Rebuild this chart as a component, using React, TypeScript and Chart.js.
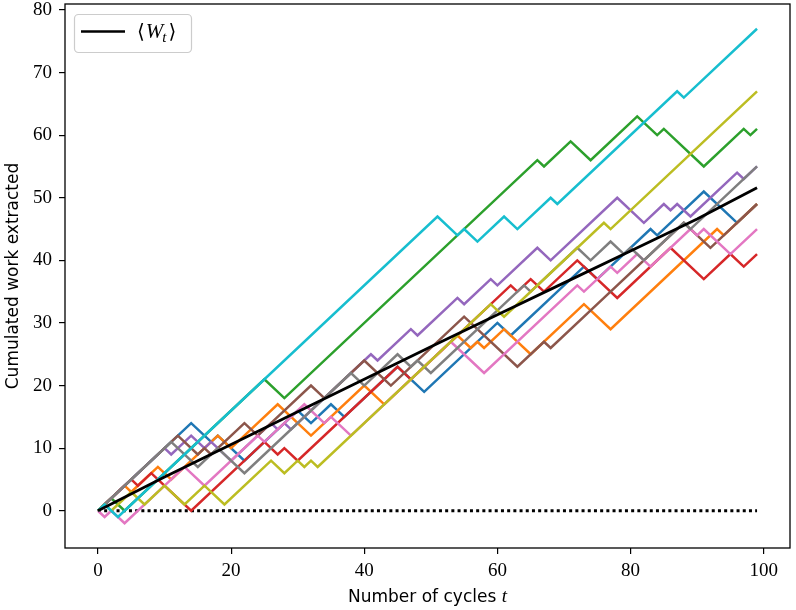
import { useEffect, useRef } from 'react';
import { Chart, registerables } from 'chart.js';

Chart.register(...registerables);

// ---- tick labels ----
const xTicks = [0, 20, 40, 60, 80, 100];
const yTicks = [0, 10, 20, 30, 40, 50, 60, 70, 80];

// ---- random walks (turning points: cycle t, cumulated work) ----
const blueT = [0, 14, 17, 18, 22, 30, 32, 35, 37, 45, 49, 60, 62, 73, 75, 83, 84, 91, 96, 99];
const blueY = [0, 14, 11, 12, 8, 16, 14, 17, 15, 23, 19, 30, 28, 39, 37, 45, 44, 51, 46, 49];

const orangeT = [0, 4, 5, 9, 11, 18, 20, 27, 32, 40, 43, 54, 56, 57, 58, 61, 65, 73, 77, 93, 94, 99];
const orangeY = [0, 4, 3, 7, 5, 12, 10, 17, 12, 20, 17, 28, 26, 27, 26, 29, 25, 33, 29, 45, 44, 49];

const greenT = [0, 2, 4, 25, 28, 66, 67, 71, 74, 81, 84, 85, 91, 97, 98, 99];
const greenY = [0, 2, 0, 21, 18, 56, 55, 59, 56, 63, 60, 61, 55, 61, 60, 61];

const redT = [0, 5, 6, 8, 14, 25, 27, 28, 30, 45, 47, 62, 63, 65, 67, 72, 78, 86, 91, 95, 97, 99];
const redY = [0, 5, 4, 6, 0, 11, 9, 10, 8, 23, 21, 36, 35, 37, 35, 40, 34, 42, 37, 41, 39, 41];

const purpleT = [0, 10, 11, 14, 16, 17, 20, 22, 26, 27, 28, 29, 38, 41, 42, 47, 48, 54, 55, 59, 60, 66, 68, 78, 82, 85, 86, 87, 89, 96, 97, 99];
const purpleY = [0, 10, 9, 12, 10, 11, 8, 10, 14, 13, 14, 13, 22, 25, 24, 29, 28, 34, 33, 37, 36, 42, 40, 50, 46, 49, 48, 49, 47, 54, 53, 55];

const brownT = [0, 12, 15, 16, 17, 22, 24, 32, 34, 40, 44, 55, 63, 67, 68, 76, 88, 92, 99];
const brownY = [0, 12, 9, 10, 9, 14, 12, 20, 18, 24, 20, 31, 23, 27, 26, 34, 46, 42, 49];

const pinkT = [0, 1, 2, 4, 13, 16, 24, 25, 31, 34, 35, 38, 53, 58, 72, 73, 77, 78, 81, 83, 89, 90, 91, 95, 99];
const pinkY = [0, -1, 0, -2, 7, 4, 12, 11, 17, 14, 15, 12, 27, 22, 36, 35, 39, 38, 41, 39, 45, 44, 45, 41, 45];

const grayT = [0, 11, 15, 18, 22, 38, 40, 45, 47, 48, 50, 64, 65, 72, 74, 77, 79, 80, 82, 88, 89, 99];
const grayY = [0, 11, 7, 10, 6, 22, 20, 25, 23, 24, 22, 36, 35, 42, 40, 43, 41, 42, 40, 46, 45, 55];

const oliveT = [0, 1, 2, 5, 7, 10, 13, 16, 19, 26, 28, 30, 31, 32, 33, 59, 61, 76, 77, 99];
const oliveY = [0, 1, 0, 3, 1, 4, 1, 4, 1, 8, 6, 8, 7, 8, 7, 33, 31, 46, 45, 67];

const cyanT = [0, 1, 2, 3, 51, 54, 55, 57, 61, 63, 68, 69, 87, 88, 99];
const cyanY = [0, 1, 0, -1, 47, 44, 45, 43, 47, 45, 50, 49, 67, 66, 77];

// ---- mean <W_t> ----
const meanT = [0, 10, 20, 30, 40, 50, 60, 70, 80, 90, 99];
const meanY = [0, 5.4, 10.6, 15.8, 21.0, 26.2, 31.3, 36.4, 41.5, 46.6, 51.6];

// ---- zero reference ----
const zeroT = [0, 99];
const zeroY = [0, 0];

const walkColors = ['#1f77b4', '#ff7f0e', '#2ca02c', '#d62728', '#9467bd', '#8c564b', '#e377c2', '#7f7f7f', '#bcbd22', '#17becf'];

const pts = (t: number[], y: number[]) => t.map((v, i) => ({ x: v, y: y[i] }));

const framePlugin = {
  id: 'frameAndLabels',
  afterDraw(chart: any) {
    const ctx = chart.ctx as CanvasRenderingContext2D;
    const a = chart.chartArea;
    ctx.save();
    // frame
    ctx.strokeStyle = '#000';
    ctx.lineWidth = 1.3;
    ctx.strokeRect(a.left, a.top, a.right - a.left, a.bottom - a.top);

    // x axis title
    const sans = '17px "DejaVu Sans"';
    const ital = 'italic 19px "Liberation Serif"';
    ctx.fillStyle = '#000';
    ctx.textBaseline = 'alphabetic';
    ctx.textAlign = 'left';
    const part1 = 'Number of cycles ';
    ctx.font = sans;
    const w1 = ctx.measureText(part1).width;
    ctx.font = ital;
    const w2 = ctx.measureText('t').width;
    const cx = (a.left + a.right) / 2;
    const x0 = cx - (w1 + w2) / 2;
    ctx.font = sans;
    ctx.fillText(part1, x0, 602);
    ctx.font = ital;
    ctx.fillText('t', x0 + w1, 602);

    // y axis title
    ctx.save();
    ctx.translate(18, (a.top + a.bottom) / 2);
    ctx.rotate(-Math.PI / 2);
    ctx.font = sans;
    ctx.textAlign = 'center';
    ctx.fillText('Cumulated work extracted', 0, 0);
    ctx.restore();

    // legend
    const lx = 74, ly = 14, lw = 117, lh = 38;
    ctx.beginPath();
    (ctx as any).roundRect(lx + 0.5, ly + 0.5, lw, lh, 4);
    ctx.fillStyle = 'rgba(255,255,255,0.85)';
    ctx.fill();
    ctx.strokeStyle = '#cccccc';
    ctx.lineWidth = 1.2;
    ctx.stroke();
    ctx.beginPath();
    ctx.moveTo(81, 31.5);
    ctx.lineTo(125, 31.5);
    ctx.strokeStyle = '#000';
    ctx.lineWidth = 2.6;
    ctx.stroke();
    ctx.fillStyle = '#000';
    let tx = 137;
    const by = 38;
    ctx.font = '20px "DejaVu Serif"';
    ctx.fillText('\u27E8', tx, by);
    tx += ctx.measureText('\u27E8').width + 1;
    ctx.font = 'italic 21px "Liberation Serif"';
    ctx.fillText('W', tx, by);
    tx += ctx.measureText('W').width - 1;
    ctx.font = 'italic 15px "Liberation Serif"';
    ctx.fillText('t', tx, by + 4);
    tx += ctx.measureText('t').width + 2;
    ctx.font = '20px "DejaVu Serif"';
    ctx.fillText('\u27E9', tx, by);
    ctx.restore();
  },
};

export default function App() {
  const ref = useRef<HTMLCanvasElement>(null);

  useEffect(() => {
    if (!ref.current) return;
    const walks = [
      [blueT, blueY], [orangeT, orangeY], [greenT, greenY], [redT, redY], [purpleT, purpleY],
      [brownT, brownY], [pinkT, pinkY], [grayT, grayY], [oliveT, oliveY], [cyanT, cyanY],
    ];
    const walkSets = walks.map(([t, y], i) => ({
      data: pts(t, y),
      borderColor: walkColors[i],
      borderWidth: 2.5,
      pointRadius: 0,
      tension: 0,
      borderJoinStyle: 'miter' as const,
      fill: false,
      order: 11 - i,
    }));
    const chart = new Chart(ref.current, {
      type: 'line',
      data: {
        datasets: [
          {
            data: pts(zeroT, zeroY),
            borderColor: '#000',
            borderWidth: 3,
            borderDash: [3, 3.2],
            borderCapStyle: 'butt',
            pointRadius: 0,
            order: 20,
          },
          ...walkSets,
          {
            data: pts(meanT, meanY),
            borderColor: '#000',
            borderWidth: 2.8,
            pointRadius: 0,
            tension: 0,
            order: 0,
          },
        ] as any,
      },
      options: {
        responsive: false,
        animation: false,
        devicePixelRatio: 1,
        layout: { padding: { left: 0, top: 4, right: 6, bottom: 0 } },
        plugins: { legend: { display: false }, tooltip: { enabled: false } },
        scales: {
          x: {
            type: 'linear',
            min: -4.95,
            max: 103.95,
            afterBuildTicks: (s: any) => { s.ticks = xTicks.map((v) => ({ value: v })); },
            afterFit: (s: any) => { s.height = 62; s.paddingLeft = 0; s.paddingRight = 0; },
            grid: { display: true, drawOnChartArea: false, drawTicks: true, tickLength: 6, color: '#000', lineWidth: 1.2 },
            border: { display: false },
            ticks: {
              color: '#000',
              padding: 6,
              maxRotation: 0,
              autoSkip: false,
              font: { family: '"Liberation Serif"', size: 19 },
              callback: (v: any) => String(v),
            },
          },
          y: {
            type: 'linear',
            min: -5.95,
            max: 80.95,
            afterBuildTicks: (s: any) => { s.ticks = yTicks.map((v) => ({ value: v })); },
            afterFit: (s: any) => { s.width = 65; s.paddingTop = 0; s.paddingBottom = 0; },
            grid: { display: true, drawOnChartArea: false, drawTicks: true, tickLength: 6, color: '#000', lineWidth: 1.2 },
            border: { display: false },
            ticks: {
              color: '#000',
              padding: 7,
              autoSkip: false,
              font: { family: '"Liberation Serif"', size: 19 },
              callback: (v: any) => String(v),
            },
          },
        },
      },
      plugins: [framePlugin],
    });
    return () => chart.destroy();
  }, []);

  return (
    <div style={{ position: 'fixed', left: 0, top: 0, width: 796, height: 610, background: '#fff' }}>
      <canvas ref={ref} width={796} height={610} style={{ width: 796, height: 610, display: 'block' }} />
    </div>
  );
}
